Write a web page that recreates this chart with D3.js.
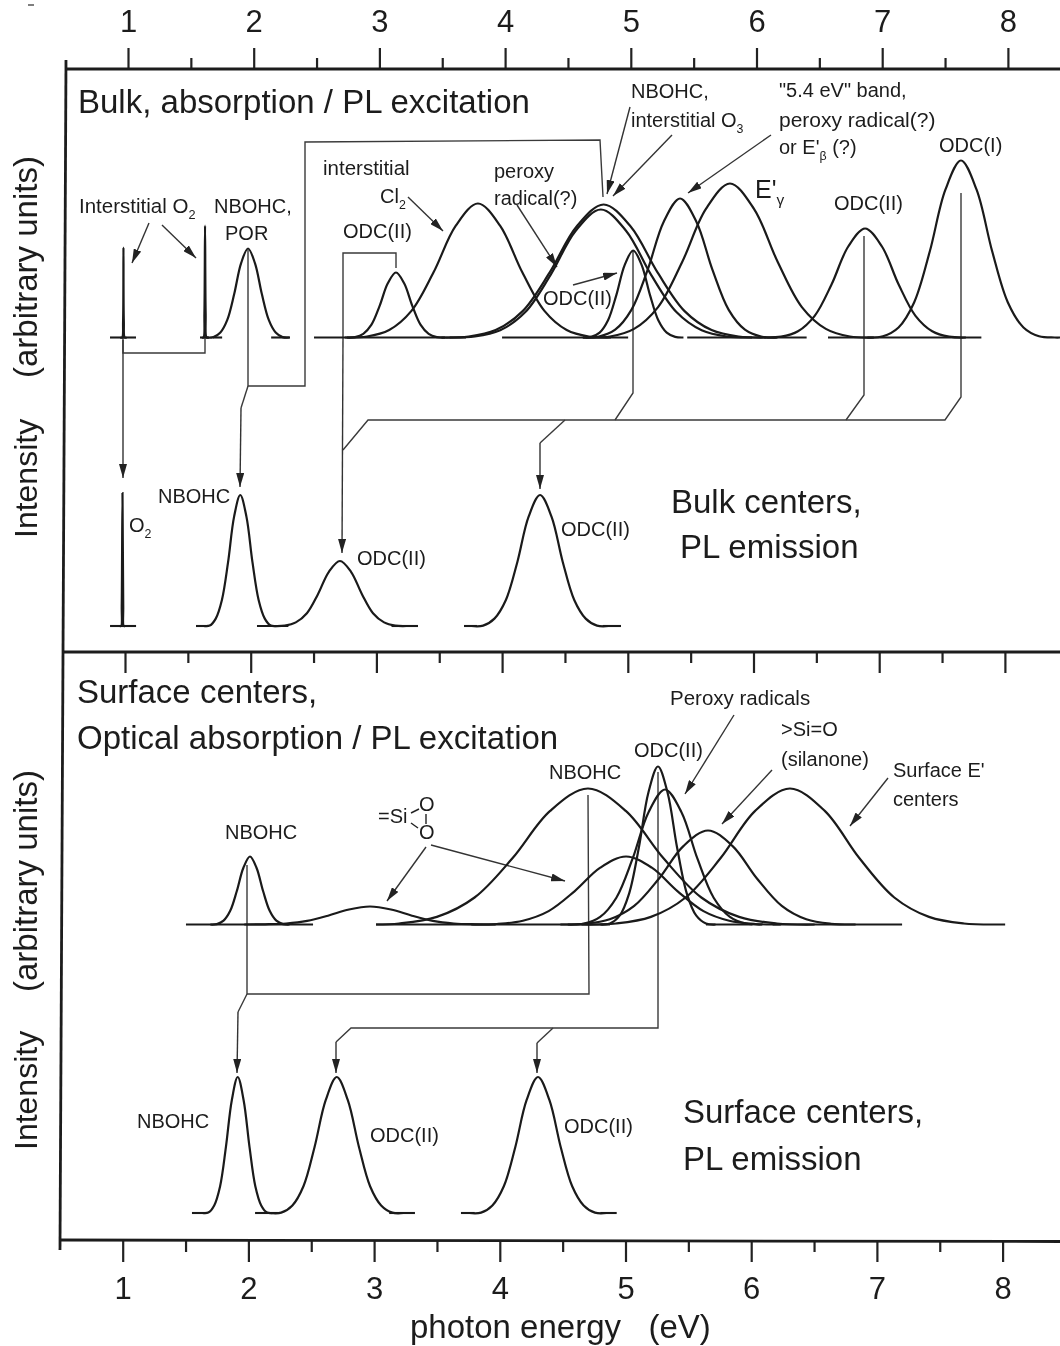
<!DOCTYPE html>
<html><head><meta charset="utf-8">
<script src="https://cdn.jsdelivr.net/npm/d3@7/dist/d3.min.js"></script>
<style>
html,body{margin:0;padding:0;background:#fff}
svg{display:block;filter:blur(0.45px)}
text{font-family:"Liberation Sans",Arial,sans-serif;fill:#1c1c1c}
</style></head><body>
<svg id="c" width="1060" height="1346"></svg>
<script>
// ---------- tick labels ----------
const majorTicks = [1,2,3,4,5,6,7,8];
const minorTicks = [1.5,2.5,3.5,4.5,5.5,6.5,7.5];

// ---------- Bulk absorption / PL excitation : energy (eV), intensity (a.u.) ----------
const o2aAbsE  = [0.95,0.965,0.972,0.975,0.978,0.985,1.0];
const o2aAbsI  = [0,0,8,45,8,0,0];
const o2bAbsE  = [1.60,1.612,1.619,1.624,1.629,1.636,1.65];
const o2bAbsI  = [0,0,12,56,12,0,0];
const porAbsE  = [1.636,1.691,1.746,1.801,1.856,1.911,1.966,2.021,2.076,2.131,2.186,2.241,2.296];
const porAbsI  = [0,0.2,2.5,8.8,21.7,37.2,44.5,37.2,21.7,8.8,2.5,0.2,0];
const odc31E   = [2.753,2.818,2.883,2.948,3.013,3.078,3.143,3.208,3.273,3.338,3.403,3.468,3.533];
const odc31I   = [0,0.2,1.8,6.4,15.8,27.1,32.5,27.1,15.8,6.4,1.8,0.2,0];
const cl2E     = [2.736,2.913,3.089,3.266,3.442,3.619,3.795,3.971,4.148,4.324,4.501,4.677,4.854];
const cl2I     = [0,0.5,3.75,13.3,32.6,55.9,67,55.9,32.6,13.3,3.75,0.5,0];
const o3E      = [3.505,3.721,3.936,4.151,4.365,4.58,4.795,5.01,5.225,5.439,5.654,5.869,6.085];
const o3I      = [0,0.5,3.7,13.2,32.4,55.5,66.5,55.5,32.4,13.2,3.7,0.5,0];
const nbohc48E = [3.57,3.771,3.972,4.172,4.372,4.573,4.773,4.973,5.174,5.374,5.575,5.775,5.976];
const nbohc48I = [0,0.5,3.6,12.7,31.2,53.4,64,53.4,31.2,12.7,3.6,0.5,0];
const odc50E   = [4.63,4.696,4.763,4.83,4.896,4.963,5.03,5.097,5.164,5.23,5.297,5.364,5.43];
const odc50I   = [0,0.3,2.4,8.6,21.2,36.3,43.5,36.3,21.2,8.6,2.4,0.3,0];
const band54E  = [4.629,4.758,4.887,5.016,5.145,5.274,5.403,5.532,5.661,5.79,5.919,6.048,6.177];
const band54I  = [0,0.5,3.9,13.8,33.8,58,69.5,58,33.8,13.8,3.9,0.5,0];
const egammaE  = [4.655,4.846,5.037,5.228,5.418,5.609,5.8,5.991,6.182,6.372,6.563,6.754,6.945];
const egammaI  = [0,0.5,4.3,15.2,37.5,64.3,77,64.3,37.5,15.2,4.3,0.5,0];
const odc69E   = [6.073,6.207,6.341,6.474,6.608,6.741,6.875,7.009,7.142,7.276,7.409,7.543,7.677];
const odc69I   = [0,0.4,3.1,10.8,26.5,45.5,54.5,45.5,26.5,10.8,3.1,0.4,0];
const odc76E   = [6.893,7.017,7.141,7.265,7.39,7.514,7.638,7.762,7.886,8.011,8.135,8.259,8.383,8.43];
const odc76I   = [0,0.6,5,17.5,43.1,73.9,88.5,73.9,43.1,17.5,5,0.6,0,0];
const bulkAbsBaseLo = [0.868,1.584,1.687,2.15,2.491,3.987,5.46,6.58];
const bulkAbsBaseHi = [1.075,1.656,1.76,2.30,3.70,4.99,6.41,7.80];

// ---------- Bulk PL emission ----------
const o2EmE    = [0.96,0.97,0.974,0.98,0.986,0.99,1.0];
const o2EmI    = [0,0,10,66.5,10,0,0];
const nbohcEmE = [1.625,1.674,1.722,1.771,1.82,1.868,1.917,1.966,2.014,2.063,2.112,2.16,2.209];
const nbohcEmI = [0,0.2,3.7,13,31.9,54.7,65.5,54.7,31.9,13,3.7,0.2,0];
const odc27EmE = [2.183,2.271,2.359,2.447,2.534,2.622,2.71,2.798,2.886,2.973,3.061,3.149,3.237];
const odc27EmI = [0,0.2,1.8,6.4,15.8,27.1,32.5,27.1,15.8,6.4,1.8,0.2,0];
const odc43EmE = [3.758,3.849,3.939,4.03,4.121,4.211,4.302,4.393,4.483,4.574,4.665,4.755,4.846];
const odc43EmI = [0,0.2,3.7,13,31.9,54.7,65.5,54.7,31.9,13,3.7,0.2,0];
const bulkEmBaseLo = [0.881,1.565,2.05,3.12,3.697,4.80];
const bulkEmBaseHi = [1.088,1.66,2.30,3.331,3.80,4.946];

// ---------- Surface absorption / PL excitation ----------
const sNbohc2E = [1.687,1.739,1.792,1.844,1.897,1.95,2.002,2.054,2.107,2.16,2.212,2.265,2.317];
const sNbohc2I = [0,0.2,1.9,6.7,16.6,28.4,34,28.4,16.6,6.7,1.9,0.2,0];
const sDiox3E  = [1.957,2.123,2.29,2.457,2.623,2.79,2.957,3.124,3.291,3.457,3.624,3.791,3.957];
const sDiox3I  = [0,0.1,0.5,1.8,4.4,7.5,9,7.5,4.4,1.8,0.5,0.1,0];
const sNbohc5E = [3.005,3.188,3.489,3.789,4.09,4.39,4.691,4.992,5.292,5.593,5.893,6.194,6.494];
const sNbohc5I = [0,0.5,3.8,13.5,33.1,56.8,68,56.8,33.1,13.5,3.8,0.5,0];
const sOdcE    = [4.79,4.866,4.943,5.019,5.096,5.172,5.248,5.324,5.4,5.477,5.553,5.63,5.706];
const sOdcI    = [0,0.5,4.4,15.6,38.5,66,79,66,38.5,15.6,4.4,0.5,0];
const sPeroxE  = [4.53,4.659,4.788,4.917,5.046,5.175,5.304,5.433,5.562,5.691,5.82,5.949,6.078];
const sPeroxI  = [0,0.5,3.8,13.4,32.9,56.4,67.5,56.4,32.9,13.4,3.8,0.5,0];
const sDiox5E  = [3.763,3.968,4.173,4.378,4.584,4.789,4.994,5.199,5.405,5.61,5.815,6.02,6.225];
const sDiox5I  = [0,0.25,1.9,6.7,16.6,28.4,34,28.4,16.6,6.7,1.9,0.25,0];
const sSilanE  = [4.472,4.668,4.864,5.059,5.255,5.45,5.646,5.842,6.037,6.233,6.428,6.624,6.82];
const sSilanI  = [0,0.35,2.6,9.3,22.9,39.2,47,39.2,22.9,9.3,2.6,0.35,0];
const sEprimeE = [4.639,4.915,5.192,5.468,5.745,6.021,6.298,6.575,6.851,7.128,7.404,7.681,7.957,8.01];
const sEprimeI = [0,0.5,3.8,13.5,33.1,56.8,68,56.8,33.1,13.5,3.8,0.5,0,0];
const surfAbsBaseLo = [1.493,3.005,5.63,6.16];
const surfAbsBaseHi = [2.504,4.866,6.0,7.19];

// ---------- Surface PL emission ----------
const sNbohcEmE = [1.634,1.681,1.728,1.775,1.821,1.868,1.915,1.962,2.009,2.055,2.102,2.149,2.196];
const sNbohcEmI = [0,0.2,3.8,13.4,32.9,56.4,68,56.4,32.9,13.4,3.8,0.2,0];
const sOdc27EmE = [2.173,2.261,2.35,2.438,2.526,2.615,2.703,2.791,2.88,2.968,3.056,3.145,3.233];
const sOdc27EmI = [0,0.2,3.8,13.4,32.9,56.4,68,56.4,32.9,13.4,3.8,0.2,0];
const sOdc43EmE = [3.76,3.851,3.941,4.032,4.123,4.213,4.304,4.395,4.485,4.576,4.667,4.757,4.848];
const sOdc43EmI = [0,0.2,3.8,13.4,32.9,56.4,68,56.4,32.9,13.4,3.8,0.2,0];
const surfEmBaseLo = [1.551,2.053,3.12,3.691,4.80];
const surfEmBaseHi = [1.66,2.25,3.325,3.80,4.93];

// ---------- layout ----------
const svg = d3.select("#c");
const PXPEREV = 125.7;
const xAt = x1 => d3.scaleLinear().domain([1,8]).range([x1, x1 + 7*PXPEREV]);
const yAt = base => d3.scaleLinear().domain([0,100]).range([base, base-200]);
const xTop = xAt(128), xMid = xAt(125), xBot = xAt(122.7);

const panels = [
 {x:xAt(126.6), y:yAt(337.5), lo:bulkAbsBaseLo, hi:bulkAbsBaseHi, bands:[[o2aAbsE,o2aAbsI],[o2bAbsE,o2bAbsI],[porAbsE,porAbsI],[odc31E,odc31I],[cl2E,cl2I],[o3E,o3I],[nbohc48E,nbohc48I],[odc50E,odc50I],[band54E,band54I],[egammaE,egammaI],[odc69E,odc69I],[odc76E,odc76I]]},
 {x:xMid, y:yAt(626), lo:bulkEmBaseLo, hi:bulkEmBaseHi, bands:[[o2EmE,o2EmI],[nbohcEmE,nbohcEmI],[odc27EmE,odc27EmI],[odc43EmE,odc43EmI]]},
 {x:xAt(124), y:yAt(924.5), lo:surfAbsBaseLo, hi:surfAbsBaseHi, bands:[[sNbohc2E,sNbohc2I],[sDiox3E,sDiox3I],[sNbohc5E,sNbohc5I],[sOdcE,sOdcI],[sPeroxE,sPeroxI],[sDiox5E,sDiox5I],[sSilanE,sSilanI],[sEprimeE,sEprimeI]]},
 {x:xBot, y:yAt(1213), lo:surfEmBaseLo, hi:surfEmBaseHi, bands:[[sNbohcEmE,sNbohcEmI],[sOdc27EmE,sOdc27EmI],[sOdc43EmE,sOdc43EmI]]}
];

// arrow marker
svg.append("defs").append("marker").attr("id","ah").attr("markerUnits","userSpaceOnUse")
  .attr("viewBox","0 0 14 8").attr("refX",14).attr("refY",4).attr("markerWidth",14).attr("markerHeight",8).attr("orient","auto")
  .append("path").attr("d","M0,0L14,4L0,8Z").attr("fill","#222");

// axes
function axis(gen, y, scale, size, labels){
  const g = svg.append("g").attr("transform",`translate(0,${y})`)
    .call(gen(scale).tickValues(labels?majorTicks:minorTicks).tickSize(size).tickSizeOuter(0)
      .tickFormat(labels?d3.format("d"):""));
  g.select(".domain").remove();
  g.selectAll("line").attr("stroke","#222").attr("stroke-width",2.2);
  g.selectAll("text").attr("font-size",31).attr("fill","#1c1c1c");
  return g;
}
const topMaj = axis(d3.axisTop,69,xTop,21,true);
topMaj.selectAll("text").attr("y",-37).attr("dy",0);
axis(d3.axisTop,69,xTop,11,false);
axis(d3.axisBottom,652,xMid,21,true).selectAll("text").remove();
axis(d3.axisBottom,652,xMid,11,false);
const botMaj = axis(d3.axisBottom,1241,xBot,21,true);
botMaj.selectAll("text").attr("y",58).attr("dy",0);
axis(d3.axisBottom,1241,xBot,11,false);

// frame
const frame = [[[66,60],[60,1250]],[[66,69],[1060,69]],[[64,652],[1060,652]],[[60,1240],[1060,1241.5]]];
const ln = d3.line();
svg.append("g").selectAll("path").data(frame).join("path").attr("d",ln)
  .attr("fill","none").attr("stroke","#1c1c1c").attr("stroke-width",2.8);
svg.append("path").attr("d",ln([[28,5],[34,5]])).attr("stroke","#555").attr("stroke-width",1.5);

// connectors
const connectors = [
 [[205,338],[205,353],[123,353],[123,338]],
 [[248,250],[248,386],[305,386],[305,142],[600,140],[603,197]],
 [[248,386],[241,408]],
 [[396,268],[396,253],[343,253],[343,338]],
 [[633,250],[633,393],[615,420]],
 [[864,236],[864,395],[846,420]],
 [[961,193],[961,397],[945,420],[368,420],[343,450]],
 [[565,420],[540,443]],
 [[247,865],[247,994],[589,994],[588,795]],
 [[658,772],[658,1028],[351,1028],[336,1042]],
 [[553,1028],[537,1043]],
 [[247,994],[238,1012]]
];
svg.append("g").selectAll("path").data(connectors).join("path").attr("d",ln)
  .attr("fill","none").attr("stroke","#3a3a3a").attr("stroke-width",1.4);

// arrows
const arrows = [
 [[149,223],[132,263]],[[162,225],[196,258]],
 [[408,197],[443,231]],
 [[517,205],[557,267]],
 [[573,285],[617,273]],
 [[630,107],[607,194]],[[672,135],[613,196]],
 [[771,135],[688,193]],
 [[123,340],[123,478]],
 [[241,408],[240,487]],
 [[343,338],[342,553]],
 [[540,443],[540,489]],
 [[734,715],[685,794]],
 [[772,770],[722,824]],
 [[888,778],[850,826]],
 [[426,847],[387,901]],
 [[431,845],[565,881]],
 [[238,1012],[237,1073]],
 [[336,1042],[336,1073]],
 [[537,1043],[537,1073]]
];
svg.append("g").selectAll("path").data(arrows).join("path").attr("d",ln)
  .attr("fill","none").attr("stroke","#333").attr("stroke-width",1.4).attr("marker-end","url(#ah)");

// bands and their baseline pieces
const gBands = svg.append("g");
panels.forEach(p=>{
  const line = d3.line().x(d=>p.x(d[0])).y(d=>p.y(d[1])).curve(d3.curveCatmullRom.alpha(0.5));
  const straight = d3.line().x(d=>p.x(d[0])).y(d=>p.y(d[1]));
  gBands.append("g").selectAll("path").data(p.lo.map((l,i)=>[[l,0],[p.hi[i],0]]))
    .join("path").attr("d",straight).attr("fill","none").attr("stroke","#1a1a1a").attr("stroke-width",2.1);
  gBands.append("g").selectAll("path").data(p.bands.map(b=>b[0].map((e,i)=>[e,b[1][i]])))
    .join("path").attr("d",line).attr("fill","none").attr("stroke","#1a1a1a").attr("stroke-width",2.2);
});

// labels: [x, baseline, text, size, subscript, tail]
const labels = [
 [78,113,"Bulk, absorption / PL excitation",33],
 [79,213,"Interstitial O",20.5,"2"],[214,213,"NBOHC,",20],[225,240,"POR",20],
 [323,175,"interstitial",20.5],[380,203,"Cl",20,"2"],[343,238,"ODC(II)",20],
 [494,178,"peroxy",20],[494,205,"radical(?)",20],
 [631,98,"NBOHC,",20],[631,127,"interstitial O",20,"3"],
 [779,97,"\"5.4 eV\" band,",20],[779,127,"peroxy radical(?)",21],[779,154,"or E'",20,"β"," (?)"],
 [939,152,"ODC(I)",20],[834,210,"ODC(II)",20],[755,198,"E'",25,"γ"],[543,305,"ODC(II)",20],
 [129,532,"O",20,"2"],[158,503,"NBOHC",20],[357,565,"ODC(II)",20],[561,536,"ODC(II)",20],
 [671,513,"Bulk centers,",33],[680,558,"PL emission",33],
 [77,703,"Surface centers,",33],[77,749,"Optical absorption / PL excitation",33],
 [670,705,"Peroxy radicals",20.5],[634,757,"ODC(II)",20],[781,736,">Si=O",20],[781,766,"(silanone)",20],
 [893,777,"Surface E'",20],[893,806,"centers",20],[549,779,"NBOHC",20],[225,839,"NBOHC",20],
 [378,823,"=Si",20],[419,811,"O",20],[419,839,"O",20],
 [137,1128,"NBOHC",20],[370,1142,"ODC(II)",20],[564,1133,"ODC(II)",20],
 [683,1123,"Surface centers,",33],[683,1170,"PL emission",33],
 [410,1338,"photon energy   (eV)",33]
];
const gT = svg.append("g");
labels.forEach(([x,y,t,s,sub,tail])=>{
  const el = gT.append("text").attr("x",x).attr("y",y).attr("font-size",s).attr("xml:space","preserve").style("white-space","pre");
  el.append("tspan").text(t);
  if(sub){
    el.append("tspan").attr("dy",s*0.28).attr("font-size",s*0.62).text(sub);
    if(tail) el.append("tspan").attr("dy",-s*0.28).text(tail);
  }
});
svg.append("g").selectAll("path").data([[[411,813],[419,809]],[[411,823],[418,828]],[[426,814],[426,824]]])
  .join("path").attr("d",ln).attr("stroke","#222").attr("stroke-width",1.4);

// rotated y labels
const yLabels = [[378,"(arbitrary units)",33],[538,"Intensity",32],[992,"(arbitrary units)",33],[1150,"Intensity",32]];
yLabels.forEach(([y,t,s])=>{
  svg.append("text").attr("transform",`translate(37,${y}) rotate(-90)`).attr("font-size",s).text(t);
});
</script>
</body></html>
